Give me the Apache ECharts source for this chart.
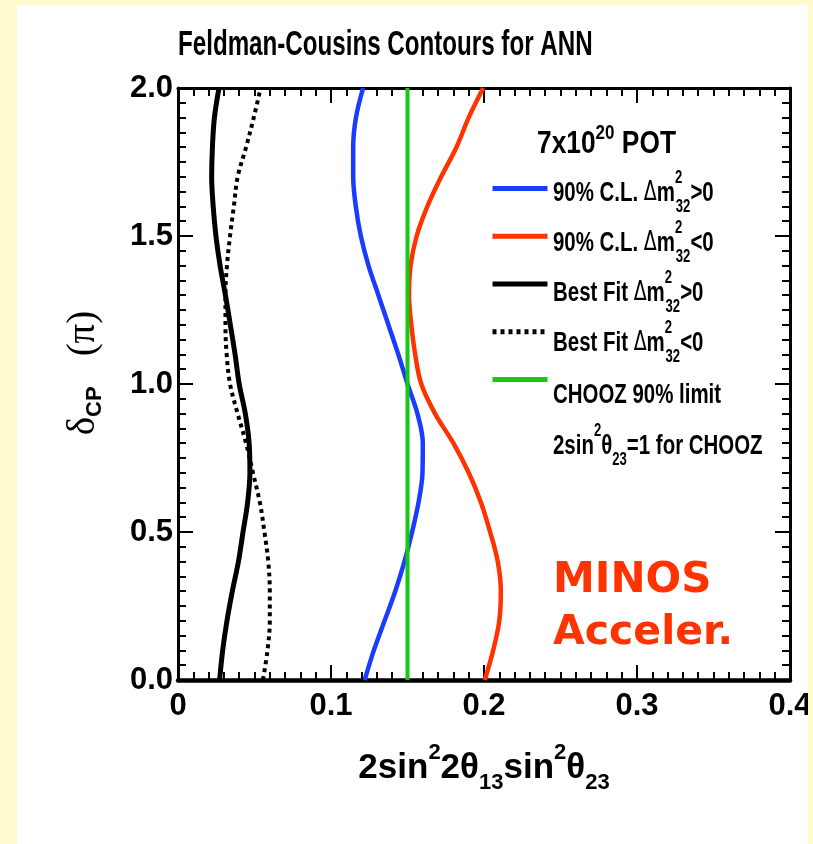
<!DOCTYPE html>
<html>
<head>
<meta charset="utf-8">
<script src="https://cdn.jsdelivr.net/npm/echarts@6/dist/echarts.min.js"></script>
<style>
  html, body { margin: 0; padding: 0; background: #fffacd; }
  #chart { position: absolute; left: 17px; top: 5px; width: 791px; height: 839px; background: #fff; }
</style>
</head>
<body>
<div id="chart"></div>
<script>
  // delta_CP (units of pi) sampled along each contour
  var deltaCP = [0.0, 0.1, 0.2, 0.3, 0.4, 0.5, 0.6, 0.7, 0.8, 0.9, 1.0,
                 1.1, 1.2, 1.3, 1.4, 1.5, 1.6, 1.7, 1.8, 1.9, 2.0]
  // 2sin^2(2theta13)sin^2(theta23)
  var clNormal = [0.122, 0.128, 0.135, 0.142, 0.148, 0.153, 0.1572, 0.1598, 0.160, 0.1565, 0.150,
                  0.144, 0.1375, 0.131, 0.1245, 0.1195, 0.1162, 0.1145, 0.1145, 0.1163, 0.121]
  var clInverted = [0.2005, 0.206, 0.210, 0.211, 0.209, 0.204, 0.198, 0.190, 0.180, 0.168, 0.159,
                    0.155, 0.1525, 0.151, 0.152, 0.156, 0.163, 0.172, 0.182, 0.190, 0.1995]
  var bestNormal = [0.0272, 0.0292, 0.032, 0.0355, 0.0395, 0.0425, 0.0455, 0.047, 0.0465, 0.044, 0.040,
                    0.0373, 0.0342, 0.031, 0.0275, 0.0248, 0.023, 0.022, 0.0225, 0.0238, 0.0268]
  var bestInverted = [0.0555, 0.0585, 0.060, 0.060, 0.059, 0.0565, 0.0535, 0.049, 0.0445, 0.039, 0.034,
                      0.0318, 0.031, 0.031, 0.032, 0.034, 0.0365, 0.039, 0.0445, 0.0495, 0.054]
  var choozLimit = 0.15
  var xTicks = [0, 0.1, 0.2, 0.3, 0.4]
  var yTicks = [0.0, 0.5, 1.0, 1.5, 2.0]

  var legendNames = ['clN', 'clI', 'bfN', 'bfI', 'chooz']
  var legendLabels = [
    '90% C.L. {g|Δ}m{p|2}{b|32}>0',
    '90% C.L. {g|Δ}m{p|2}{b|32}<0',
    'Best Fit {g|Δ}m{p|2}{b|32}>0',
    'Best Fit {g|Δ}m{p|2}{b|32}<0',
    'CHOOZ 90% limit'
  ]

  var FONT = "'Liberation Sans', Arial, sans-serif"
  var SQUEEZE = 0.73   // the original uses a narrow helvetica

  var chart = echarts.init(document.getElementById('chart'))

  function frameAxis(pos, isX, labels) {
    var ticks = isX ? xTicks : yTicks
    return {
      type: 'value',
      position: pos,
      min: ticks[0],
      max: ticks[ticks.length - 1],
      interval: ticks[1] - ticks[0],
      axisLine: { show: true, onZero: false, lineStyle: { color: '#000', width: pos === 'bottom' ? 4.5 : 3 } },
      axisTick: { show: true, inside: true, length: 15, lineStyle: { color: '#000', width: 2 } },
      minorTick: { show: true, splitNumber: 10, length: 8, lineStyle: { color: '#000', width: 2 } },
      splitLine: { show: false },
      minorSplitLine: { show: false },
      axisLabel: labels ? {
        show: true,
        color: '#000',
        fontSize: 31,
        fontWeight: 'bold',
        fontFamily: FONT,
        margin: isX ? 11 : 5,
        formatter: function (v) { return (isX && v === 0) ? '0' : v.toFixed(1) }
      } : { show: false }
    }
  }

  var xBottom = frameAxis('bottom', true, true)
  xBottom.name = '2sin{p|2}2θ{b|13}sin{p|2}θ{b|23}'
  xBottom.nameLocation = 'middle'
  xBottom.nameGap = 62
  xBottom.nameTextStyle = {
    color: '#000', fontSize: 35, fontWeight: 'bold', fontFamily: FONT, lineHeight: 52,
    rich: {
      p: { fontSize: 22, fontWeight: 'bold', fontFamily: FONT, verticalAlign: 'top', lineHeight: 22 },
      b: { fontSize: 22, fontWeight: 'bold', fontFamily: FONT, verticalAlign: 'bottom', lineHeight: 22 }
    }
  }

  var yLeft = frameAxis('left', false, true)
  yLeft.name = '{d|δ}{s|CP}{sp| }{d|(π)}'
  yLeft.nameLocation = 'middle'
  yLeft.nameRotate = 90
  yLeft.nameGap = 72
  yLeft.nameTextStyle = {
    color: '#000', fontSize: 34, lineHeight: 44, padding: [0, 0, 0, 22],
    rich: {
      d: { fontSize: 39, fontFamily: "'Liberation Serif', serif", color: '#000', lineHeight: 44 },
      s: { fontSize: 22, fontWeight: 'bold', fontFamily: FONT, color: '#000', verticalAlign: 'bottom', lineHeight: 22 },
      sp: { fontSize: 34, width: 30 }
    }
  }

  var supSub = {
    g: { fontSize: 26, fontFamily: "'DejaVu Sans', sans-serif", fill: '#000', lineHeight: 47 },
    p: { fontSize: 18, fontWeight: 'bold', fontFamily: FONT, fill: '#000', verticalAlign: 'top', lineHeight: 18, width: 1 },
    q: { fontSize: 18, fontWeight: 'bold', fontFamily: FONT, fill: '#000', verticalAlign: 'top', lineHeight: 18 },
    b: { fontSize: 18, fontWeight: 'bold', fontFamily: FONT, fill: '#000', verticalAlign: 'bottom', lineHeight: 18 }
  }

  function label(text, x, y, size, squeeze, extra) {
    var st = {
      text: text, x: 0, y: 0, fill: '#000', font: 'bold ' + size + 'px ' + FONT,
      verticalAlign: 'middle', align: 'left', rich: supSub, lineHeight: 47
    }
    for (var k in (extra || {})) st[k] = extra[k]
    return { type: 'text', x: x, y: y, scaleX: squeeze, silent: true, style: st }
  }

  // legend entry rows (centre of the swatch), relative to the chart box
  var rowY = [185, 235, 285, 335, 387]
  var graphics = [
    label('Feldman-Cousins Contours for ANN', 161, 40, 35, 0.69, { rich: null, lineHeight: 40 }),
    label('7x10{q|20} POT', 520, 139, 31, 0.85, {
      lineHeight: 42,
      rich: { q: { fontSize: 20, fontWeight: 'bold', fontFamily: FONT, fill: '#000', verticalAlign: 'top', lineHeight: 20 } }
    }),
    label('2sin{q|2}θ{b|23}=1 for CHOOZ', 536, 441, 28, SQUEEZE),
    { type: 'text', x: 536, y: 576, silent: true,
      style: { text: 'MINOS', fill: '#ff3300', font: 'bold 42px "DejaVu Sans", sans-serif', verticalAlign: 'middle' } },
    { type: 'text', x: 536, y: 628, silent: true,
      style: { text: 'Acceler.', fill: '#ff3300', font: 'bold 41px "DejaVu Sans", sans-serif', verticalAlign: 'middle' } }
  ]
  legendLabels.forEach(function (t, i) {
    graphics.push(label(t, 536, rowY[i] + 3, 28, SQUEEZE))
  })

  function contour(name, xs, color, width, dash) {
    return {
      name: name, type: 'line', symbol: 'none', smooth: 0.35,
      data: deltaCP.map(function (d, i) { return [xs[i], d] }),
      lineStyle: { color: color, width: width, type: dash || 'solid' },
      itemStyle: { color: color }
    }
  }

  chart.setOption({
    animation: false,
    backgroundColor: '#fff',
    grid: { left: 161, right: 18, top: 83, bottom: 164, containLabel: false, outerBoundsMode: 'none' },
    xAxis: [xBottom, frameAxis('top', true, false)],
    yAxis: [yLeft, frameAxis('right', false, false)],
    legend: {
      orient: 'vertical',
      left: 473,
      top: rowY[0] - 7,
      padding: 0,
      itemWidth: 55,
      itemHeight: 14,
      itemGap: 36.5,
      selectedMode: false,
      data: legendNames,
      formatter: function () { return '' },
      textStyle: { fontSize: 1, lineHeight: 14 },
      itemStyle: { opacity: 0 },
      lineStyle: { width: 5 }
    },
    graphic: graphics,
    series: [
      contour('clN', clNormal, '#1a3cff', 4.5),
      contour('clI', clInverted, '#ff3300', 4.5),
      contour('bfN', bestNormal, '#000', 5),
      contour('bfI', bestInverted, '#000', 4, [4, 4]),
      {
        name: 'chooz', type: 'line', symbol: 'none',
        data: [[choozLimit, yTicks[0]], [choozLimit, yTicks[yTicks.length - 1]]],
        lineStyle: { color: '#14c814', width: 4 }, itemStyle: { color: '#14c814' }
      }
    ]
  })
</script>
</body>
</html>
